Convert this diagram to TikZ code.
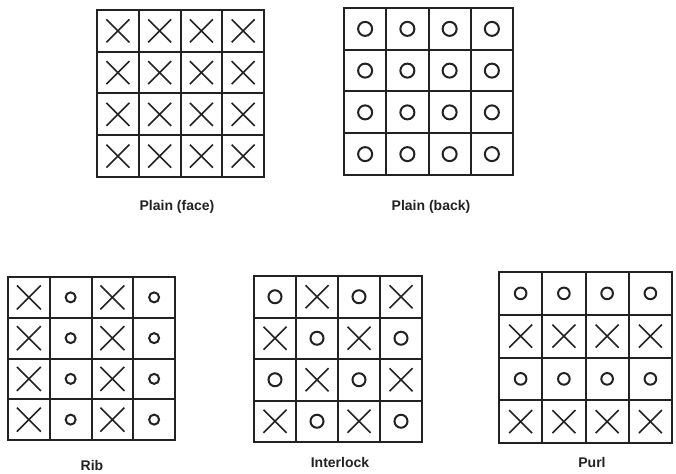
\documentclass[tikz,border=0pt]{standalone}
\usepackage{fontspec}
\setmainfont{Liberation Sans}
\definecolor{ink}{HTML}{222222}
\newcommand\knitmarkx[3]{\draw[markline] (#1-#3,#2-#3) -- (#1+#3,#2+#3) (#1-#3,#2+#3) -- (#1+#3,#2-#3);}
\newcommand\knitmarko[3]{\draw[markline,line width=2pt] (#1,#2) circle[radius=#3];}
% #1 left, #2 top, #3 width, #4 height, #5 cross half size, #6 circle radius, #7 rows
\newcommand\knitgrid[7]{%
  \pgfmathsetmacro\kw{#3/4}\pgfmathsetmacro\kh{#4/4}%
  \draw[gridline] (#1,#2) rectangle (#1+#3,#2+#4);
  \foreach \i in {1,2,3}{\draw[gridline] (#1+\i*\kw,#2) -- (#1+\i*\kw,#2+#4);
    \draw[gridline] (#1,#2+\i*\kh) -- (#1+#3,#2+\i*\kh);}
  \foreach \rw [count=\r] in {#7}{%
    \foreach \s [count=\c] in \rw {%
      \pgfmathsetmacro\cx{#1+(\c-0.5)*\kw}\pgfmathsetmacro\cy{#2+(\r-0.5)*\kh}%
      \if x\s \knitmarkx{\cx}{\cy}{#5}\else \knitmarko{\cx}{\cy}{#6}\fi
    }}%
}
\begin{document}
\begin{tikzpicture}[x=1pt,y=-1pt,
  gridline/.style={draw=ink,line width=2pt,line cap=rect},
  markline/.style={draw=ink,line width=1.6pt},
  caption/.style={font=\fontsize{14}{16}\selectfont\bfseries,text=ink,inner sep=0pt}]
\useasboundingbox[fill=white] (0,0) rectangle (676,473);
\knitgrid{97}{10}{167}{167}{11.5}{6.5}{{x,x,x,x},{x,x,x,x},{x,x,x,x},{x,x,x,x}}
\knitgrid{344}{8}{169}{167}{11.5}{7}{{o,o,o,o},{o,o,o,o},{o,o,o,o},{o,o,o,o}}
\knitgrid{8}{277}{167}{163}{12}{5}{{x,o,x,o},{x,o,x,o},{x,o,x,o},{x,o,x,o}}
\knitgrid{254}{276}{168}{166}{11.5}{6.5}{{o,x,o,x},{x,o,x,o},{o,x,o,x},{x,o,x,o}}
\knitgrid{499}{272}{173}{171}{11.5}{5.8}{{o,o,o,o},{x,x,x,x},{o,o,o,o},{x,x,x,x}}
\node[caption] (capface) at (177,207) {Plain (face)};
\node[caption] (capback) at (431,207) {Plain (back)};
\node[caption] (caprib) at (92,465) {Rib};
\node[caption] (capinter) at (340,462) {Interlock};
\node[caption] (cappurl) at (592,462) {Purl};
\end{tikzpicture}
\end{document}
